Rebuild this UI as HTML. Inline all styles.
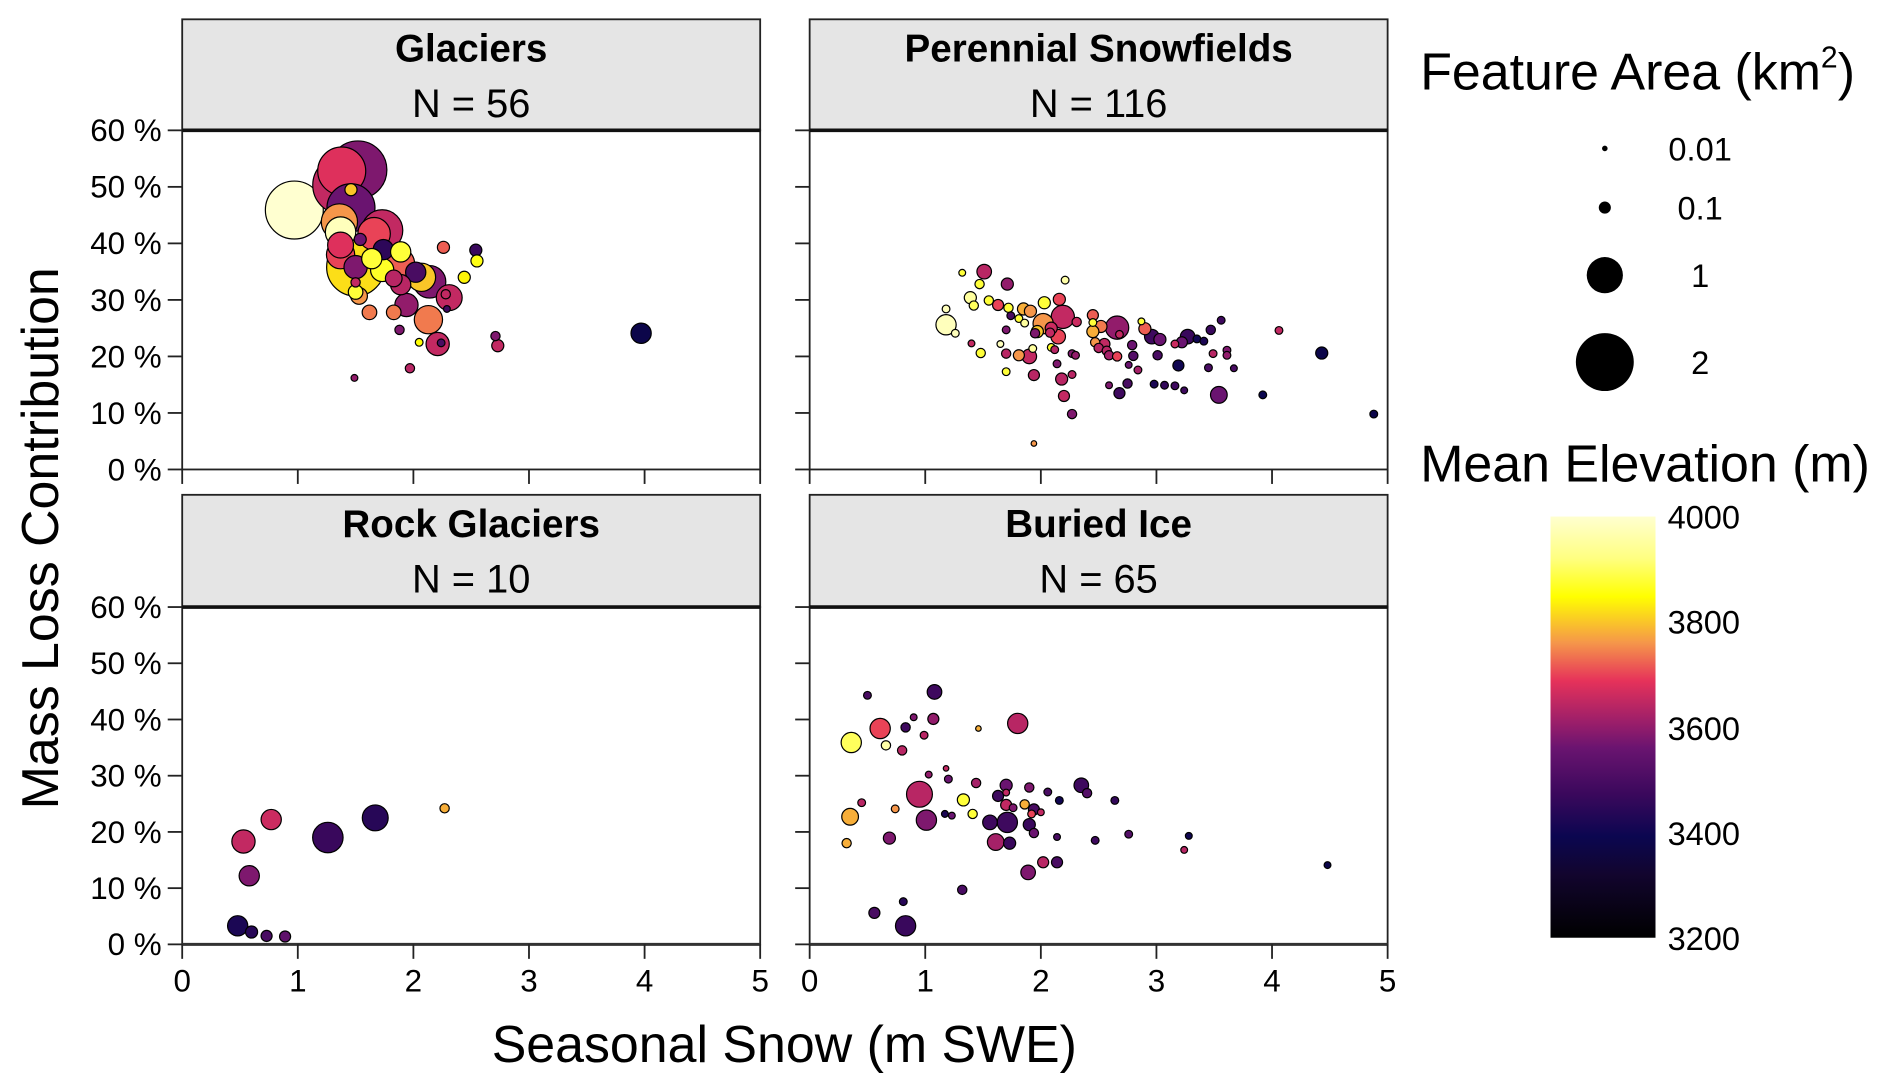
<!DOCTYPE html>
<html><head><meta charset="utf-8"><style>
html,body{margin:0;padding:0;background:#fff;}
svg{display:block;font-family:"Liberation Sans",Arial,sans-serif;}
</style></head><body>
<svg id="chart" width="1892" height="1091" viewBox="0 0 1568 904" preserveAspectRatio="none" xmlns="http://www.w3.org/2000/svg">
<defs>
<linearGradient id="inferno" x1="0" y1="1" x2="0" y2="0">
<stop offset="0" stop-color="#000000"/><stop offset="0.15" stop-color="#12052e"/><stop offset="0.24" stop-color="#0b0650"/><stop offset="0.34" stop-color="#3a085c"/><stop offset="0.45" stop-color="#6a1470"/><stop offset="0.51" stop-color="#9a1e6a"/><stop offset="0.61" stop-color="#e6325a"/><stop offset="0.7" stop-color="#f5964a"/><stop offset="0.81" stop-color="#ffff00"/><stop offset="0.9" stop-color="#ffff80"/><stop offset="1" stop-color="#ffffd0"/>
</linearGradient>
</defs>
<g id="panels"></g>
<text x="650" y="880" font-size="43" text-anchor="middle">Seasonal Snow (m SWE)</text>
<text transform="translate(48,446) rotate(-90)" font-size="43" text-anchor="middle">Mass Loss Contribution</text>
<g>
<text x="1177" y="74" font-size="43">Feature Area (km<tspan font-size="25" dy="-18">2</tspan><tspan dy="18">)</tspan></text>
<circle cx="1330" cy="123" r="2.3" fill="#000"/>
<circle cx="1330" cy="172" r="5" fill="#000"/>
<circle cx="1330" cy="228" r="15" fill="#000"/>
<circle cx="1330" cy="300" r="24" fill="#000"/>
<text x="1409" y="133" font-size="27" text-anchor="middle">0.01</text>
<text x="1409" y="182" font-size="27" text-anchor="middle">0.1</text>
<text x="1409" y="238" font-size="27" text-anchor="middle">1</text>
<text x="1409" y="310" font-size="27" text-anchor="middle">2</text>
</g>
<g>
<text x="1177" y="399" font-size="43">Mean Elevation (m)</text>
<rect x="1285" y="428" width="87" height="349" fill="url(#inferno)"/>
<text x="1382" y="438" font-size="27">4000</text>
<text x="1382" y="525" font-size="27">3800</text>
<text x="1382" y="613" font-size="27">3600</text>
<text x="1382" y="700" font-size="27">3400</text>
<text x="1382" y="787" font-size="27">3200</text>
</g>
</svg>
<script>
const panelTitles = ["Glaciers","Perennial Snowfields","Rock Glaciers","Buried Ice"];
const panelCounts = ["N = 56","N = 116","N = 10","N = 65"];
const xTicks = [0,1,2,3,4,5];
const yTicks = [0,10,20,30,40,50,60];
const yTickLabels = ["0 %","10 %","20 %","30 %","40 %","50 %","60 %"];

const glX = [0.97,1.38,1.52,1.38,1.46,1.46,1.36,1.37,1.73,1.66,1.54,1.37,1.37,1.5,1.74,1.89,1.64,1.87,1.5,1.73,2.02,2.07,2.14,1.83,1.89,1.5,1.5,1.53,2.31,2.28,2.29,1.94,1.62,1.83,2.13,1.88,2.05,2.21,2.24,2.71,2.73,2.26,2.54,2.55,2.44,3.97,1.97,1.49];
const glY = [45.9,50.3,53,52.8,49.5,46.3,43.8,42,42.3,41.7,40.7,39.7,38,35.8,38.9,38.5,37.3,36.4,35.8,35.3,34.9,34,33.2,33.8,32.7,33.1,31.4,30.7,30.4,31,28.4,29.1,27.8,27.8,26.5,24.7,22.5,22.2,22.4,23.6,21.9,39.3,38.8,36.9,34,24.1,17.9,16.2];
const glA = [2,2,2,1.5,0.1,1.5,1,0.7,1.2,0.8,0.1,0.5,0.6,2,0.3,0.3,0.3,0.8,0.4,0.4,0.3,0.6,0.8,0.2,0.3,0.05,0.15,0.2,0.5,0.05,0.02,0.4,0.15,0.15,0.6,0.05,0.03,0.4,0.03,0.05,0.1,0.1,0.1,0.1,0.1,0.3,0.05,0.02];
const glE = [4000,3650,3580,3680,3800,3560,3760,3980,3650,3700,3560,3680,3700,3820,3450,3880,3880,3720,3580,3870,3500,3800,3580,3640,3640,3650,3880,3760,3650,3650,3480,3600,3740,3740,3740,3580,3850,3650,3500,3580,3650,3720,3470,3860,3840,3380,3640,3600];

const psX = [1.18,1.18,1.26,1.32,1.51,1.47,1.71,2.21,1.39,1.42,1.55,1.63,1.72,1.85,1.91,2.03,2.16,2.19,1.74,1.81,1.86,2.02,2.09,1.97,1.95,2.15,2.08,2.31,2.45,2.45,2.52,2.45,2.66,2.68,2.87,2.9,2.96,3.03,3.27,3.22,3.16,3.35,3.41,3.47,3.56,4.06,4.43,4.88,1.4,1.65,1.7,1.48,1.7,1.81,1.9,1.93,2.09,2.12,2.27,2.3,2.47,2.55,2.5,2.57,2.59,2.66,2.79,2.8,3.01,3.49,3.61,3.61,1.7,1.94,2.14,2.18,2.27,2.2,2.27,2.59,2.75,2.68,2.76,2.84,2.98,3.07,3.16,3.24,3.19,3.45,3.67,3.54,3.92,1.94];
const psY = [25.6,28.4,24.1,34.8,35,32.8,32.8,33.5,30.4,29,29.9,29.1,28.6,28.4,28,29.5,30.1,27,27.2,26.7,25.9,25.8,25,24.4,24.1,23.5,24.2,26.1,27.3,26,25.3,24.4,25.1,23.9,26.2,24.9,23.5,23,23.5,22.5,22.2,23.1,22.7,24.7,26.4,24.6,20.6,9.8,22.3,22.2,24.7,20.6,20.5,20.2,20,21.4,21.6,21.2,20.5,20.2,22.5,22.2,21.5,21,20.2,20,22,20.1,20.2,20.5,21.1,20.2,17.3,16.7,18.7,16,16.8,13,9.8,14.9,15.2,13.5,18.5,17.6,15.1,14.9,14.8,14,18.4,18,17.9,13.2,13.2,4.6];
const psA = [0.3,0.03,0.03,0.02,0.15,0.05,0.1,0.03,0.1,0.05,0.05,0.08,0.05,0.1,0.1,0.1,0.1,0.4,0.03,0.03,0.03,0.3,0.1,0.1,0.05,0.15,0.05,0.05,0.08,0.03,0.1,0.1,0.4,0.03,0.02,0.1,0.15,0.1,0.15,0.08,0.03,0.03,0.03,0.05,0.03,0.03,0.1,0.03,0.02,0.02,0.03,0.05,0.05,0.08,0.15,0.03,0.03,0.03,0.03,0.03,0.05,0.08,0.05,0.05,0.05,0.05,0.05,0.05,0.05,0.03,0.03,0.03,0.03,0.08,0.03,0.1,0.03,0.08,0.05,0.02,0.05,0.08,0.02,0.03,0.03,0.03,0.03,0.02,0.08,0.03,0.02,0.2,0.03,0.01];
const psE = [3980,3980,3980,3880,3640,3880,3600,3960,3950,3900,3880,3700,3880,3780,3760,3880,3700,3650,3500,3880,3950,3760,3660,3800,3580,3700,3650,3660,3720,3880,3740,3780,3600,3650,3880,3720,3480,3560,3470,3560,3660,3400,3420,3470,3480,3650,3380,3380,3650,3980,3580,3880,3640,3760,3650,3950,3870,3640,3580,3600,3760,3650,3640,3640,3620,3700,3560,3520,3500,3640,3580,3600,3880,3640,3580,3640,3640,3650,3580,3580,3500,3480,3560,3620,3420,3460,3480,3480,3400,3500,3500,3560,3390,3760];

const rgX = [0.53,0.77,1.26,1.67,2.27,0.58,0.48,0.6,0.73,0.89];
const rgY = [18.3,22.2,19,22.5,24.2,12.2,3.3,2.2,1.5,1.4];
const rgA = [0.4,0.3,0.7,0.5,0.05,0.3,0.3,0.1,0.08,0.08];
const rgE = [3650,3660,3470,3440,3780,3580,3420,3440,3500,3540];

const biX = [0.5,1.08,0.61,0.83,0.9,1.07,0.99,1.46,1.8,0.36,0.66,0.8,1.18,1.03,1.2,1.44,1.7,1.9,2.06,2.35,2.4,2.16,2.64,0.95,1.33,1.63,1.7,1.7,1.76,1.86,1.94,2,1.92,0.45,0.74,0.35,1.41,1.17,1.23,1.01,1.56,1.71,1.9,1.94,2.14,2.47,2.76,3.28,3.24,0.32,0.69,1.61,1.73,2.02,2.14,1.89,1.32,4.48,0.81,0.56,0.83];
const biY = [44.3,44.9,38.4,38.6,40.4,40.1,37.2,38.4,39.3,35.9,35.4,34.5,31.3,30.2,29.4,28.7,28.3,27.9,27.1,28.3,26.9,25.6,25.6,26.7,25.7,26.4,27,24.8,24.3,24.9,24,23.5,23.2,25.2,24.1,22.7,23.2,23.2,22.9,22.1,21.7,21.7,21.3,19.8,19.1,18.5,19.6,19.3,16.8,18,18.9,18.2,18,14.6,14.6,12.8,9.7,14.1,7.6,5.6,3.3];
const biA = [0.03,0.15,0.3,0.05,0.02,0.08,0.03,0.01,0.3,0.3,0.05,0.05,0.01,0.02,0.03,0.05,0.1,0.05,0.03,0.15,0.05,0.03,0.03,0.5,0.1,0.08,0.02,0.08,0.03,0.05,0.08,0.02,0.03,0.03,0.03,0.2,0.05,0.02,0.02,0.3,0.15,0.3,0.1,0.05,0.02,0.03,0.03,0.02,0.02,0.05,0.1,0.2,0.1,0.08,0.08,0.15,0.05,0.02,0.03,0.08,0.3];
const biE = [3500,3480,3700,3480,3580,3600,3640,3780,3640,3900,3960,3640,3650,3600,3560,3620,3560,3580,3500,3480,3520,3400,3460,3640,3880,3480,3650,3650,3580,3780,3500,3650,3700,3640,3760,3780,3880,3420,3560,3580,3480,3480,3470,3560,3500,3480,3520,3400,3640,3780,3580,3620,3470,3640,3500,3580,3500,3380,3440,3500,3470];

const panelData = [[glX,glY,glA,glE],[psX,psY,psA,psE],[rgX,rgY,rgA,rgE],[biX,biY,biA,biE]];

const NS = "http://www.w3.org/2000/svg";
const panelsG = document.getElementById("panels");
const layout = [
  {x0:151,x1:630,st:16,top:108,bot:389},
  {x0:671,x1:1150,st:16,top:108,bot:389},
  {x0:151,x1:630,st:410,top:503,bot:782.5},
  {x0:671,x1:1150,st:410,top:503,bot:782.5}
];
const cT = [0,0.15,0.24,0.34,0.45,0.51,0.61,0.7,0.81,0.9,1];
const cC = ["#000000","#12052e","#0b0650","#3a085c","#6a1470","#9a1e6a","#e6325a","#f5964a","#ffff00","#ffff80","#ffffd0"];
function hex(c){return [parseInt(c.substr(1,2),16),parseInt(c.substr(3,2),16),parseInt(c.substr(5,2),16)];}
function colorScale(e){
  let t=Math.max(0,Math.min(1,(e-3200)/800));
  let i=0; while(i<cT.length-2 && t>cT[i+1]) i++;
  let f=(t-cT[i])/(cT[i+1]-cT[i]);
  let a=hex(cC[i]),b=hex(cC[i+1]);
  return "rgb("+a.map((v,k)=>Math.round(v+(b[k]-v)*f)).join(",")+")";
}
function sizeScale(a){
  const s=Math.sqrt(a), ss=[0.1,0.316,1,1.414], rr=[2.3,5,15,24];
  if(s<=ss[0]) return rr[0];
  for(let i=0;i<3;i++){ if(s<=ss[i+1]||i==2){ return rr[i]+(rr[i+1]-rr[i])*(s-ss[i])/(ss[i+1]-ss[i]); } }
}
function mk(tag,attrs,parent){const el=document.createElementNS(NS,tag);for(const k in attrs)el.setAttribute(k,attrs[k]);parent.appendChild(el);return el;}

layout.forEach((L,p)=>{
  const g=mk("g",{},panelsG);
  
  
  const xS=v=>L.x0+(L.x1-L.x0)*v/5;
  const yS=v=>L.bot-(L.bot-L.top)*v/60;
  const strip=mk("rect",{x:L.x0,y:L.st,width:L.x1-L.x0,height:L.top-L.st,fill:"#e5e5e5",stroke:"#222","stroke-width":1.5},g);
  
  
  const t1=mk("text",{x:(L.x0+L.x1)/2,y:L.st+35,"font-size":32,"font-weight":"bold","text-anchor":"middle"},g);
  t1.textContent=panelTitles[p];
  
  
  const t2=mk("text",{x:(L.x0+L.x1)/2,y:L.st+81,"font-size":33,"text-anchor":"middle"},g);
  t2.textContent=panelCounts[p];
  
  
  const frame=mk("rect",{x:L.x0,y:L.top,width:L.x1-L.x0,height:L.bot-L.top,fill:"#fff",stroke:"#222","stroke-width":1.5},g);
  
  
  mk("line",{x1:L.x0,x2:L.x1,y1:L.top,y2:L.top,stroke:"#111","stroke-width":3},g);
  if(p>=2) mk("line",{x1:L.x0,x2:L.x1,y1:L.bot,y2:L.bot,stroke:"#333","stroke-width":2.5},g);
  yTicks.forEach((v,i)=>{
    mk("line",{x1:L.x0-12,x2:L.x0,y1:yS(v),y2:yS(v),stroke:"#222","stroke-width":1.5},g);
    if(p%2==0){
      const tl=mk("text",{x:L.x0-17,y:yS(v)+9,"font-size":26,"text-anchor":"end"},g);
      tl.textContent=yTickLabels[i];
      
      
    }
  });
  xTicks.forEach(v=>{
    mk("line",{x1:xS(v),x2:xS(v),y1:L.bot,y2:L.bot+12,stroke:"#222","stroke-width":1.5},g);
    if(p>=2){
      const tl=mk("text",{x:xS(v),y:L.bot+39,"font-size":26,"text-anchor":"middle"},g);
      tl.textContent=String(v);
      
      
    }
  });
  const [X,Y,A,E]=panelData[p];
  const idx=X.map((_,i)=>i).sort((a,b)=>A[b]-A[a]);
  idx.forEach(i=>{
    const c=mk("circle",{cx:xS(X[i]),cy:yS(Y[i]),r:sizeScale(A[i]),fill:colorScale(E[i]),stroke:"#000","stroke-width":1},g);
    
    
  });
});
</script>
</body></html>
